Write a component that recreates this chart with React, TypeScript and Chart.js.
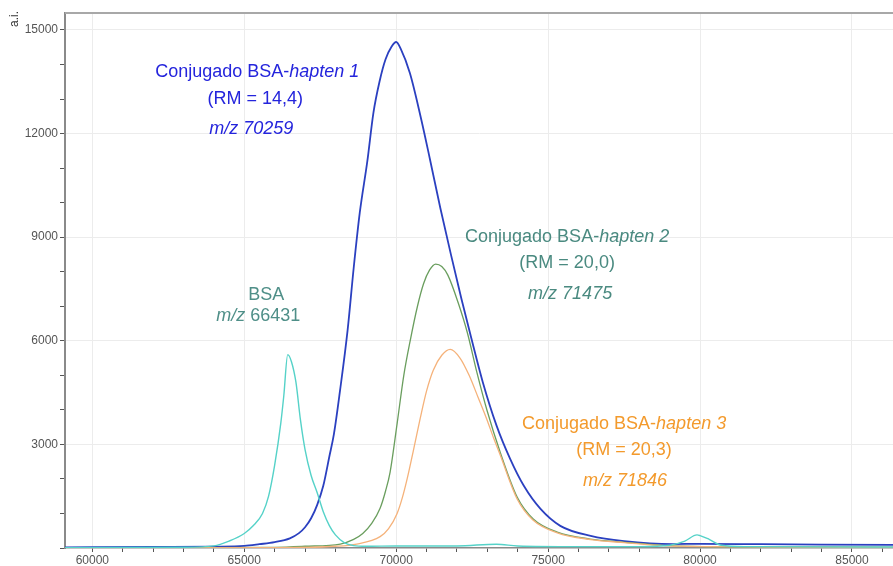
import React, { useEffect, useRef } from "react";
import { Chart, registerables } from "chart.js";

Chart.register(...registerables);

// ---- Data (m/z vs intensity, a.i.) ----
const bsaMz = [59100, 63000, 64000, 64500, 65000, 65300, 65600, 65800, 66000, 66200, 66300, 66430, 66550, 66700, 66850, 67000, 67200, 67400, 67600, 67800, 68000, 68300, 68600, 69000, 70000, 72000, 73300, 74000, 76000, 78000, 79000, 79500, 79900, 80000, 80300, 80700, 81500, 86350];
const bsaInt = [10, 20, 60, 200, 420, 650, 1000, 1500, 2400, 3600, 4400, 5600, 5400, 4800, 3700, 2850, 2100, 1600, 1050, 650, 380, 150, 70, 50, 60, 60, 110, 60, 40, 40, 80, 200, 380, 360, 250, 80, 40, 30];

const h1Mz = [59100, 62000, 64000, 65000, 65500, 66000, 66500, 66800, 67000, 67200, 67400, 67600, 67800, 67950, 68150, 68400, 68600, 68800, 69050, 69250, 69450, 69650, 69850, 70000, 70150, 70450, 70800, 71100, 71450, 71800, 72150, 72450, 72850, 73300, 73750, 74200, 74750, 75400, 76400, 77500, 79100, 80000, 82000, 84000, 86350];
const h1Int = [20, 30, 40, 60, 110, 170, 280, 430, 600, 860, 1250, 1800, 2650, 3300, 4550, 6300, 8100, 9700, 11200, 12600, 13500, 14150, 14520, 14650, 14450, 13750, 12500, 11300, 9850, 8500, 7200, 6150, 4800, 3550, 2580, 1800, 1130, 640, 350, 200, 115, 120, 110, 100, 90];

const h2Mz = [59100, 66000, 67000, 68160, 68600, 68900, 69200, 69470, 69650, 69800, 70030, 70250, 70460, 70700, 70900, 71100, 71300, 71500, 71700, 72040, 72340, 72660, 72990, 73420, 73980, 74510, 75300, 76380, 77470, 79110, 82000, 86350];
const h2Int = [0, 20, 50, 115, 250, 420, 720, 1150, 1650, 2200, 3600, 5000, 6000, 7000, 7650, 8050, 8220, 8150, 7900, 7100, 6240, 5070, 3980, 2780, 1475, 840, 460, 260, 170, 60, 30, 20];

const h3Mz = [59100, 66000, 68000, 68700, 69470, 69750, 70030, 70200, 70360, 70560, 70790, 71000, 71220, 71500, 71776, 72100, 72400, 72700, 72950, 73200, 73420, 73980, 74500, 75300, 76400, 77500, 79100, 86350];
const h3Int = [0, 10, 50, 115, 330, 560, 1000, 1450, 2000, 2800, 3750, 4550, 5150, 5580, 5750, 5500, 5000, 4350, 3800, 3200, 2700, 1420, 810, 440, 245, 155, 55, 20];

const xTickLabels = [60000, 65000, 70000, 75000, 80000, 85000];
const yTickLabels = [3000, 6000, 9000, 12000, 15000];

// ---- Annotation texts ----
type Seg = { t: string; i?: boolean };
const annotations: { color: string; lines: { mz: number; v: number; segs: Seg[] }[] }[] = [
  {
    color: "#2424dc",
    lines: [
      { mz: 65428, v: 13777, segs: [{ t: "Conjugado BSA-" }, { t: "hapten 1", i: true }] },
      { mz: 65362, v: 12996, segs: [{ t: "(RM = 14,4)" }] },
      { mz: 65230, v: 12127, segs: [{ t: "m/z 70259", i: true }] },
    ],
  },
  {
    color: "#4f8f88",
    lines: [
      { mz: 65724, v: 7323, segs: [{ t: "BSA" }] },
      { mz: 65461, v: 6715, segs: [{ t: "m/z", i: true }, { t: " 66431" }] },
    ],
  },
  {
    color: "#4a8a80",
    lines: [
      { mz: 75625, v: 9001, segs: [{ t: "Conjugado BSA-" }, { t: "hapten 2", i: true }] },
      { mz: 75625, v: 8249, segs: [{ t: "(RM = 20,0)" }] },
      { mz: 75724, v: 7352, segs: [{ t: "m/z 71475", i: true }] },
    ],
  },
  {
    color: "#f39a2c",
    lines: [
      { mz: 77500, v: 3589, segs: [{ t: "Conjugado BSA-" }, { t: "hapten 3", i: true }] },
      { mz: 77500, v: 2836, segs: [{ t: "(RM = 20,3)" }] },
      { mz: 77533, v: 1939, segs: [{ t: "m/z 71846", i: true }] },
    ],
  },
];

const FONT = "'Liberation Sans', Arial, sans-serif";

const toPts = (xs: number[], ys: number[]) => xs.map((x, k) => ({ x, y: ys[k] }));

const textPlugin = {
  id: "annotText",
  afterDatasetsDraw(chart: any) {
    const { ctx, scales, chartArea } = chart;
    const xs = scales.x;
    const ys = scales.y;
    ctx.save();
    // top border
    ctx.strokeStyle = "#a8a8a8";
    ctx.lineWidth = 2;
    ctx.beginPath();
    ctx.moveTo(chartArea.left, chartArea.top);
    ctx.lineTo(chartArea.right, chartArea.top);
    ctx.stroke();

    ctx.textBaseline = "middle";
    ctx.textAlign = "left";
    for (const a of annotations) {
      ctx.fillStyle = a.color;
      for (const ln of a.lines) {
        const cx = xs.getPixelForValue(ln.mz);
        const cy = ys.getPixelForValue(ln.v);
        let total = 0;
        const widths: number[] = [];
        for (const s of ln.segs) {
          ctx.font = `${s.i ? "italic " : ""}18px ${FONT}`;
          const w = ctx.measureText(s.t).width;
          widths.push(w);
          total += w;
        }
        let x = cx - total / 2;
        ln.segs.forEach((s, k) => {
          ctx.font = `${s.i ? "italic " : ""}18px ${FONT}`;
          ctx.fillText(s.t, x, cy);
          x += widths[k];
        });
      }
    }
    // a.i. label
    ctx.save();
    ctx.translate(15, 19);
    ctx.rotate(-Math.PI / 2);
    ctx.fillStyle = "#333";
    ctx.font = `12px ${FONT}`;
    ctx.textAlign = "center";
    ctx.textBaseline = "middle";
    ctx.fillText("a.i.", 0, 0);
    ctx.restore();
    ctx.restore();
  },
};

const makeTicks = (from: number, to: number, step: number) => {
  const out: { value: number }[] = [];
  for (let v = from; v <= to; v += step) out.push({ value: v });
  return out;
};

export default function App() {
  const ref = useRef<HTMLCanvasElement | null>(null);
  useEffect(() => {
    if (!ref.current) return;
    const ds = (label: string, xs: number[], ys: number[], color: string, w: number) => ({
      label,
      data: toPts(xs, ys),
      borderColor: color,
      backgroundColor: color,
      borderWidth: w,
      pointRadius: 0,
      cubicInterpolationMode: "monotone" as const,
    });
    const chart = new Chart(ref.current, {
      type: "line",
      data: {
        datasets: [
          ds("BSA", bsaMz, bsaInt, "#55d2c8", 1.4),
          ds("Conjugado BSA-hapten 3", h3Mz, h3Int, "#f5b27a", 1.3),
          ds("Conjugado BSA-hapten 2", h2Mz, h2Int, "#6a9e5e", 1.3),
          ds("Conjugado BSA-hapten 1", h1Mz, h1Int, "#2b40c0", 1.8),
        ],
      },
      options: {
        animation: false,
        responsive: false,
        maintainAspectRatio: false,
        layout: { padding: { top: 13, right: 0, left: 0, bottom: 0 } },
        plugins: { legend: { display: false }, tooltip: { enabled: false } },
        scales: {
          x: {
            type: "linear",
            min: 59100,
            max: 86350,
            afterBuildTicks: (s: any) => {
              s.ticks = makeTicks(60000, 86000, 1000);
            },
            afterFit: (s: any) => {
              s.height = 18;
            },
            border: { color: "#8a8a8a", width: 1.5 },
            grid: {
              color: (c: any) => (xTickLabels.includes(c.tick?.value) ? "#ececec" : "rgba(0,0,0,0)"),
              tickColor: "#555",
              tickLength: 4,
            },
            ticks: {
              autoSkip: false,
              maxRotation: 0,
              padding: 1,
              color: "#555",
              font: { family: FONT, size: 12 },
              callback: (v: any) => (xTickLabels.includes(Number(v)) ? String(v) : ""),
            },
          },
          y: {
            type: "linear",
            min: 0,
            max: 15490,
            afterBuildTicks: (s: any) => {
              s.ticks = makeTicks(0, 15000, 1000);
            },
            afterFit: (s: any) => {
              s.width = 65;
            },
            border: { color: "#8a8a8a", width: 2 },
            grid: {
              color: (c: any) => (yTickLabels.includes(c.tick?.value) ? "#ececec" : "rgba(0,0,0,0)"),
              tickColor: "#555",
              tickLength: 5,
            },
            ticks: {
              autoSkip: false,
              padding: 2,
              color: "#555",
              font: { family: FONT, size: 12 },
              callback: (v: any) => (yTickLabels.includes(Number(v)) ? String(v) : ""),
            },
          },
        },
      },
      plugins: [textPlugin],
    });
    return () => chart.destroy();
  }, []);
  return (
    <div style={{ position: "fixed", left: 0, top: 0, width: 893, height: 566, background: "#fff" }}>
      <canvas ref={ref} width={893} height={566} style={{ width: 893, height: 566 }} />
    </div>
  );
}
